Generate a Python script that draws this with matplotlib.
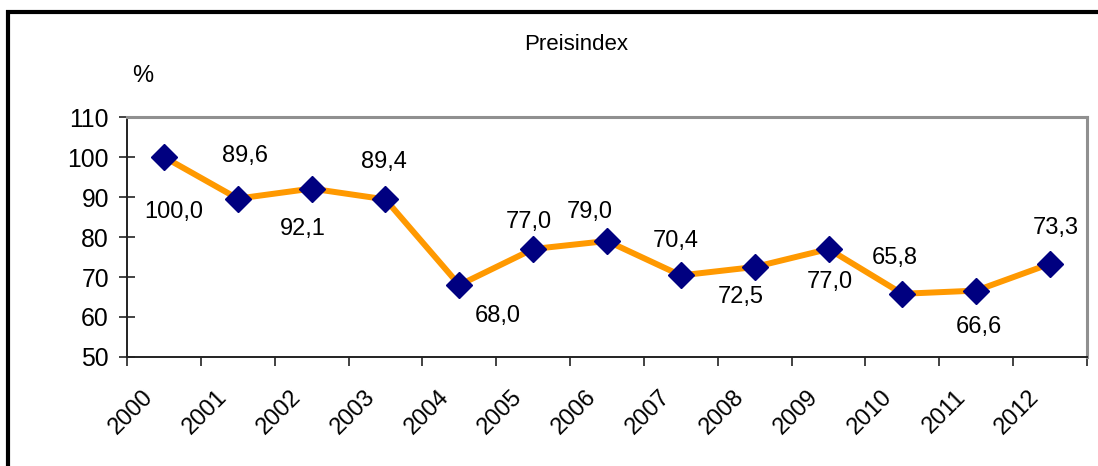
import matplotlib
matplotlib.use("Agg")
import matplotlib.pyplot as plt
from matplotlib.lines import Line2D
from matplotlib.transforms import ScaledTranslation
import numpy as np

years = ["2000", "2001", "2002", "2003", "2004", "2005", "2006",
         "2007", "2008", "2009", "2010", "2011", "2012"]
values = [100.0, 89.6, 92.1, 89.4, 68.0, 77.0, 79.0, 70.4, 72.5, 77.0, 65.8, 66.6, 73.3]
labels = ["100,0", "89,6", "92,1", "89,4", "68,0", "77,0", "79,0",
          "70,4", "72,5", "77,0", "65,8", "66,6", "73,3"]
y_ticks = [50, 60, 70, 80, 90, 100, 110]

# label offsets in pixels (dx, dy downwards)
label_offsets_px = [(10, 55), (7, -43), (-9, 40), (-2, -37), (38, 31), (-4, -27), (-17, -29),
                    (-5, -34), (-14, 30), (1, 33), (-8, -36), (3, 36), (6, -36)]

plt.rcParams['font.family'] = ['Liberation Sans', 'DejaVu Sans']
FS = 17
W, H = 1098, 466
fig = plt.figure(figsize=(W / 100, H / 100), dpi=100)
fig.patch.set_facecolor("white")

L, R, T, B = 127, 1087, 117, 357
ax = fig.add_axes([L / W, 1 - B / H, (R - L) / W, (B - T) / H])

x = np.arange(len(years))
ax.plot(x, values, color="#FF9900", lw=4.3, zorder=2, solid_joinstyle="miter")
ax.plot(x, values, linestyle="none", marker="D", markersize=12.8,
        markerfacecolor="#000080", markeredgecolor="#000080", zorder=3)

for xi, v, lab, (dx, dy) in zip(x, values, labels, label_offsets_px):
    ax.annotate(lab, (xi, v), xytext=(dx * 0.72, -dy * 0.72), textcoords="offset points",
                ha="center", va="center", fontsize=FS, color="black")

ax.set_xlim(-0.5, len(years) - 0.5)
ax.set_ylim(50, 110)
ax.set_yticks(y_ticks)
ax.set_yticklabels([str(t) for t in y_ticks], fontsize=17.8)
ax.tick_params(axis="y", direction="inout", length=12, width=1.2, pad=7, color="#222222")

ax.set_xticks(x)
ax.set_xticklabels(years, rotation=45, ha="right", va="center", rotation_mode="anchor", fontsize=FS)
ax.tick_params(axis="x", which="major", length=0, pad=26.5)
shift = ScaledTranslation(-14 / 100, 0, fig.dpi_scale_trans)
for lbl in ax.get_xticklabels():
    lbl.set_transform(lbl.get_transform() + shift)
ax.set_xticks(np.arange(len(years) + 1) - 0.5, minor=True)
ax.tick_params(axis="x", which="minor", direction="out", length=6.5, width=1.2, color="#222222")

for s in ["left", "bottom"]:
    ax.spines[s].set_color("#222222")
    ax.spines[s].set_linewidth(1.4)
for s in ["top", "right"]:
    ax.spines[s].set_color("#909090")
    ax.spines[s].set_linewidth(2.2)

fig.text(576 / W, 1 - 44 / H, "Preisindex", ha="center", va="center", fontsize=16)
fig.text(143 / W, 1 - 76 / H, "%", ha="center", va="center", fontsize=FS)

# outer frame (top and left only)
fig.add_artist(Line2D([6 / W, 1.0], [1 - 11.5 / H, 1 - 11.5 / H], color="black", lw=3,
                      transform=fig.transFigure, solid_capstyle="butt"))
fig.add_artist(Line2D([7.5 / W, 7.5 / W], [0, 1 - 10 / H], color="black", lw=3,
                      transform=fig.transFigure, solid_capstyle="butt"))

fig.savefig("out.png", dpi=100)
